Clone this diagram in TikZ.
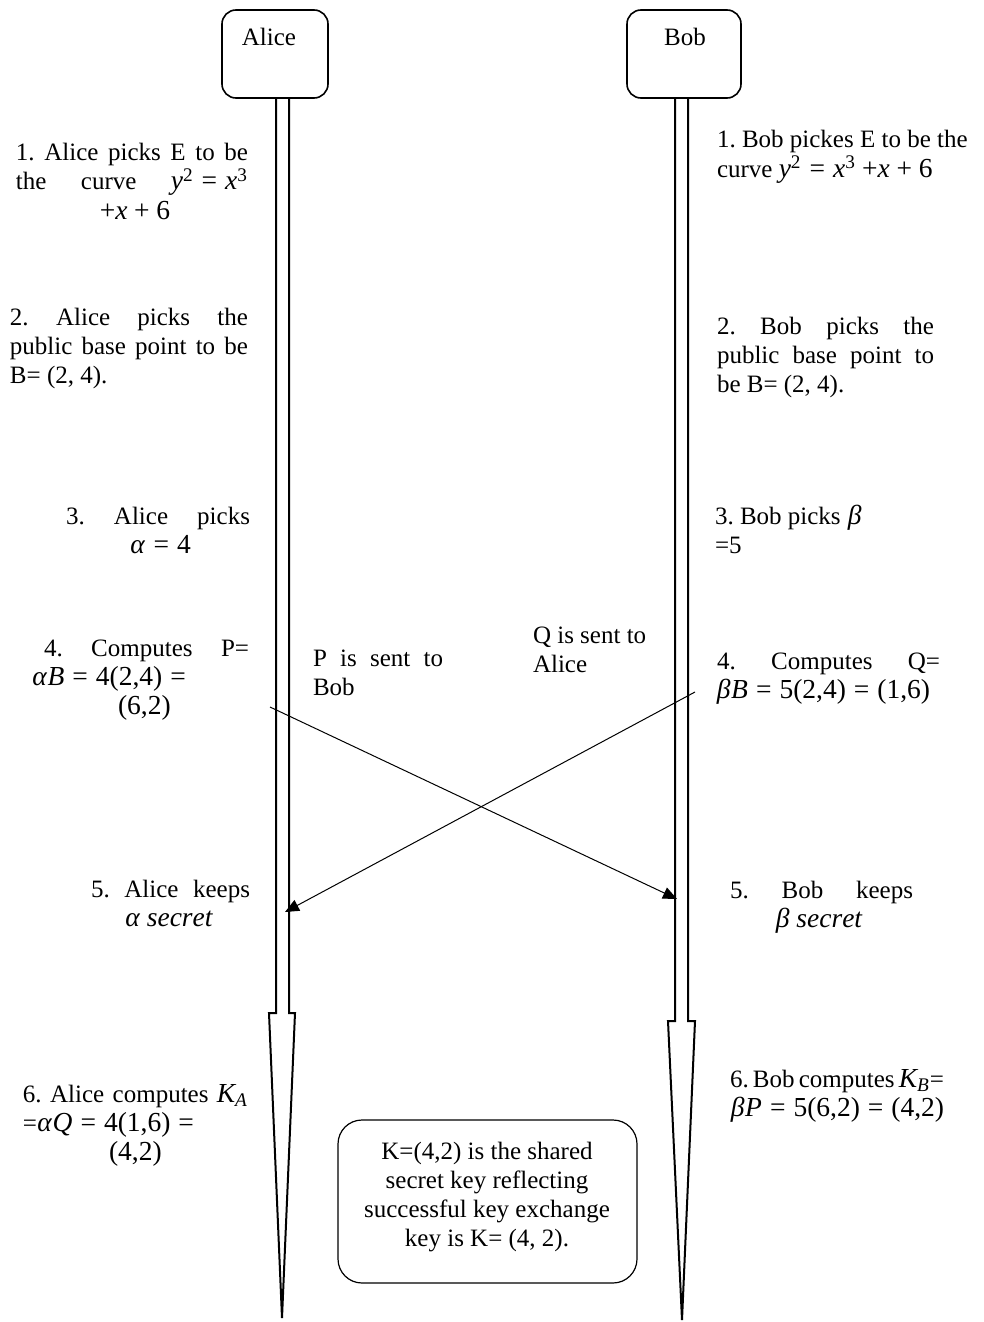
\documentclass[tikz,border=0pt]{standalone}
\usepackage{mathspec}
\setmainfont{Liberation Serif}
\setmathsfont(Digits,Latin,Greek)[Scale=1.1]{Liberation Serif}
\setmathrm{Liberation Serif}
\usetikzlibrary{arrows.meta}
\frenchspacing
\thickmuskip=6mu
\medmuskip=5mu
\newcommand{\bigtx}[1]{\mbox{\fontsize{13.75}{14}\selectfont #1}}
\newcommand{\eqq}{\mathrel{\bigtx{=}}}
\newcommand{\pls}{\mathbin{\bigtx{+}}}
\newcommand{\pr}[1]{\bigtx{(#1)}}
\begin{document}
\begin{tikzpicture}[x=0.5pt,y=-0.5pt,
  txt/.style={anchor=base west, inner sep=0pt, outer sep=0pt, font=\fontsize{12.5}{14}\selectfont},
  ctxt/.style={txt, anchor=base},
  actor/.style={draw, line width=0.8pt, rounded corners=7pt, inner sep=0pt},
  life/.style={line width=1pt, line join=miter},
  msg/.style={line width=0.5pt, -{Triangle[length=7pt,width=6pt]}},
  keybox/.style={draw, line width=0.6pt, rounded corners=12pt, inner sep=0pt}]
\useasboundingbox (0,0) rectangle (984,1322);

% actors
\node[actor, minimum width=53pt, minimum height=44pt] (alice) at (275,54) {};
\node[ctxt] (alicet) at (269,46) {Alice};
\node[actor, minimum width=57pt, minimum height=44pt] (bob) at (684,54) {};
\node[ctxt] (bobt) at (685,46) {Bob};

% lifelines
\draw[life] (276,98) -- (276,1013) -- (269,1013) -- (282,1318) -- (295,1013) -- (289,1013) -- (289,98);
\draw[life] (675,98) -- (675,1021) -- (668,1021) -- (682,1320) -- (695,1021) -- (688,1021) -- (688,98);

% messages
\coordinate (pstart) at (270,707);
\coordinate (pend) at (677,899);
\coordinate (qstart) at (695,692);
\coordinate (qend) at (285,912);
\draw[msg] (pstart) -- (pend);
\draw[msg] (qstart) -- (qend);

% step 1
\node[txt] (a1l1) at (16,161) {\makebox[116pt][s]{1. Alice picks E to be}};
\node[txt] (a1l2) at (16,190) {\makebox[116pt][s]{the curve \mbox{$y^2 \eqq x^3$}}};
\node[ctxt] (a1l3) at (135,219) {${\pls}x \pls 6$};
\node[txt] (b1l1) at (717,148) {1. Bob pickes E to be the};
\node[txt] (b1l2) at (717,177) {curve $y^2 \eqq x^3$ ${\pls}x \pls 6$};

% step 2
\node[txt] (a2l1) at (10,325) {\makebox[119pt][s]{2. Alice picks the}};
\node[txt] (a2l2) at (10,354) {\makebox[119pt][s]{public base point to be}};
\node[txt] (a2l3) at (10,383) {B= (2, 4).};
\node[txt] (b2l1) at (717,334) {\makebox[108.5pt][s]{2. Bob picks the}};
\node[txt] (b2l2) at (717,363) {\makebox[108.5pt][s]{public base point to}};
\node[txt] (b2l3) at (717,392) {be B= (2, 4).};

% step 3
\node[txt] (a3l1) at (66,524) {\makebox[92pt][s]{3. Alice picks}};
\node[txt] (a3l2) at (130,553) {$\alpha \eqq 4$};
\node[txt] (b3l1) at (715,524) {3. Bob picks $\beta$};
\node[txt] (b3l2) at (715,553) {=5};

% step 4
\node[txt] (a4l1) at (44,656) {\makebox[102.5pt][s]{4. Computes P=}};
\node[txt] (a4l2) at (32,685) {$\alpha B \eqq 4\pr{2,4} \eqq$};
\node[txt] (a4l3) at (118,714) {\pr{6,2}};
\node[txt] (pl1) at (313,666) {\makebox[65pt][s]{P is sent to}};
\node[txt] (pl2) at (313,695) {Bob};
\node[txt] (ql1) at (533,643) {Q is sent to};
\node[txt] (ql2) at (533,672) {Alice};
\node[txt] (b4l1) at (717,669) {\makebox[111.5pt][s]{4. Computes Q=}};
\node[txt] (b4l2) at (716,698) {$\beta B \eqq 5\pr{2,4} \eqq \pr{1,6}$};

% step 5
\node[txt] (a5l1) at (91,897) {\makebox[79.5pt][s]{5. Alice keeps}};
\node[txt] (a5l2) at (125,926) {$\alpha\ secret$};
\node[txt] (b5l1) at (730,898) {\makebox[91.5pt][s]{5. Bob keeps}};
\node[txt] (b5l2) at (775,927) {$\beta\ secret$};

% step 6
\node[txt] (a6l1) at (23,1102) {\makebox[112.5pt][s]{6. Alice computes \mbox{$K_A$}}};
\node[txt] (a6l2) at (23,1131) {=$\alpha Q \eqq 4\pr{1,6} \eqq$};
\node[txt] (a6l3) at (109,1160) {\pr{4,2}};
\node[txt] (b6l1) at (730,1087) {\makebox[105pt][s]{6. Bob computes \mbox{$K_B$=}}};
\node[txt] (b6l2) at (730,1116) {$\beta P \eqq 5\pr{6,2} \eqq \pr{4,2}$};

% shared key box
\node[keybox, minimum width=149.5pt, minimum height=81.5pt] (key) at (487.5,1201.5) {};
\node[ctxt] (k1) at (487,1159) {K=(4,2) is the shared};
\node[ctxt] (k2) at (487,1188) {secret key reflecting};
\node[ctxt] (k3) at (487,1217) {successful key exchange};
\node[ctxt] (k4) at (487,1246) {key is K= (4, 2).};
\end{tikzpicture}
\end{document}
